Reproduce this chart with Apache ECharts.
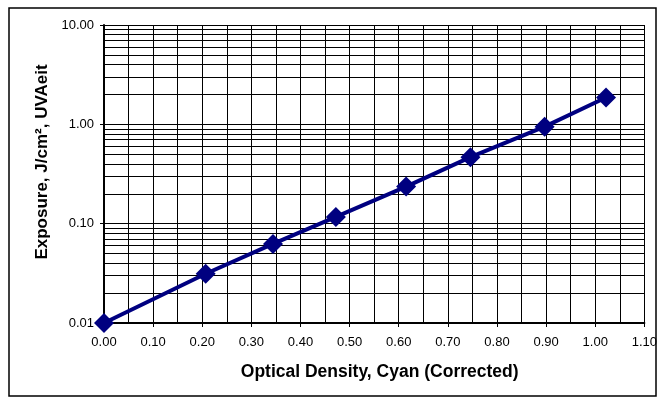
<!DOCTYPE html>
<html>
<head>
<meta charset="utf-8">
<script src="https://cdn.jsdelivr.net/npm/echarts@6/dist/echarts.min.js"></script>
<style>
  html, body { margin: 0; padding: 0; background: #fff; }
  #chart { width: 660px; height: 400px; }
</style>
</head>
<body>
<div id="chart"></div>
<script>
// optical density vs exposure
const density = [0.00, 0.207, 0.344, 0.472, 0.615, 0.746, 0.897, 1.022];
const exposure = [0.01, 0.0313, 0.0625, 0.117, 0.236, 0.467, 0.948, 1.86];

const xTitle = 'Optical Density, Cyan (Corrected)';
const yTitle = 'Exposure, J/cm², UVAeit';

// minor log grid lines 2..9 in every decade
const decades = [0.01, 0.1, 1];
const minorLines = [];
decades.forEach(function (d) {
  for (let k = 2; k <= 9; k++) minorLines.push({ yAxis: +(d * k).toPrecision(3) });
});

const chart = echarts.init(document.getElementById('chart'), null, { renderer: 'canvas' });

const font = '"Liberation Sans", Arial, sans-serif';

const option = {
  animation: false,
  backgroundColor: '#fff',
  graphic: [{
    type: 'rect',
    shape: { x: 9, y: 8, width: 647, height: 388 },
    style: { fill: 'none', stroke: '#000', lineWidth: 1.5 },
    silent: true
  }],
  grid: { left: 104, right: 15, top: 25, bottom: 77 },
  xAxis: {
    type: 'value',
    min: 0, max: 1.1, interval: 0.1,
    name: xTitle,
    nameLocation: 'middle',
    nameGap: 40,
    nameTextStyle: {
      fontFamily: font, fontSize: 17.5, fontWeight: 'bold', color: '#000',
      padding: [0, 0, 0, 11]
    },
    axisLine: { onZero: false, lineStyle: { color: '#000', width: 2 } },
    axisTick: { show: true, length: 4, lineStyle: { color: '#000' } },
    axisLabel: {
      fontFamily: font, fontSize: 13, color: '#000', margin: 13,
      formatter: function (v) { return v.toFixed(2); }
    },
    splitLine: { show: true, lineStyle: { color: '#000', width: 1 } },
    minorTick: { show: false, splitNumber: 2 },
    minorSplitLine: { show: true, lineStyle: { color: '#000', width: 1 } }
  },
  yAxis: {
    type: 'log',
    logBase: 10,
    min: 0.01, max: 10,
    name: yTitle,
    nameLocation: 'middle',
    nameGap: 52,
    nameRotate: 90,
    nameTextStyle: {
      fontFamily: font, fontSize: 17, fontWeight: 'bold', color: '#000',
      padding: [0, 0, 0, 24]
    },
    axisLine: { show: true, lineStyle: { color: '#000', width: 2 } },
    axisTick: { show: true, length: 4, lineStyle: { color: '#000' } },
    axisLabel: {
      fontFamily: font, fontSize: 13, color: '#000', margin: 10,
      formatter: function (v) { return v.toFixed(2); }
    },
    splitLine: { show: true, lineStyle: { color: '#000', width: 1 } }
  },
  series: [{
    type: 'line',
    data: density.map(function (x, i) { return [x, exposure[i]]; }),
    symbol: 'diamond',
    symbolSize: 20,
    lineStyle: { color: '#000080', width: 4 },
    itemStyle: { color: '#000080' },
    z: 5,
    markLine: {
      silent: true,
      symbol: ['none', 'none'],
      label: { show: false },
      lineStyle: { color: '#000', width: 1, type: 'solid' },
      emphasis: { disabled: true },
      data: minorLines,
      z: 1
    }
  }]
};

chart.setOption(option);
</script>
</body>
</html>
